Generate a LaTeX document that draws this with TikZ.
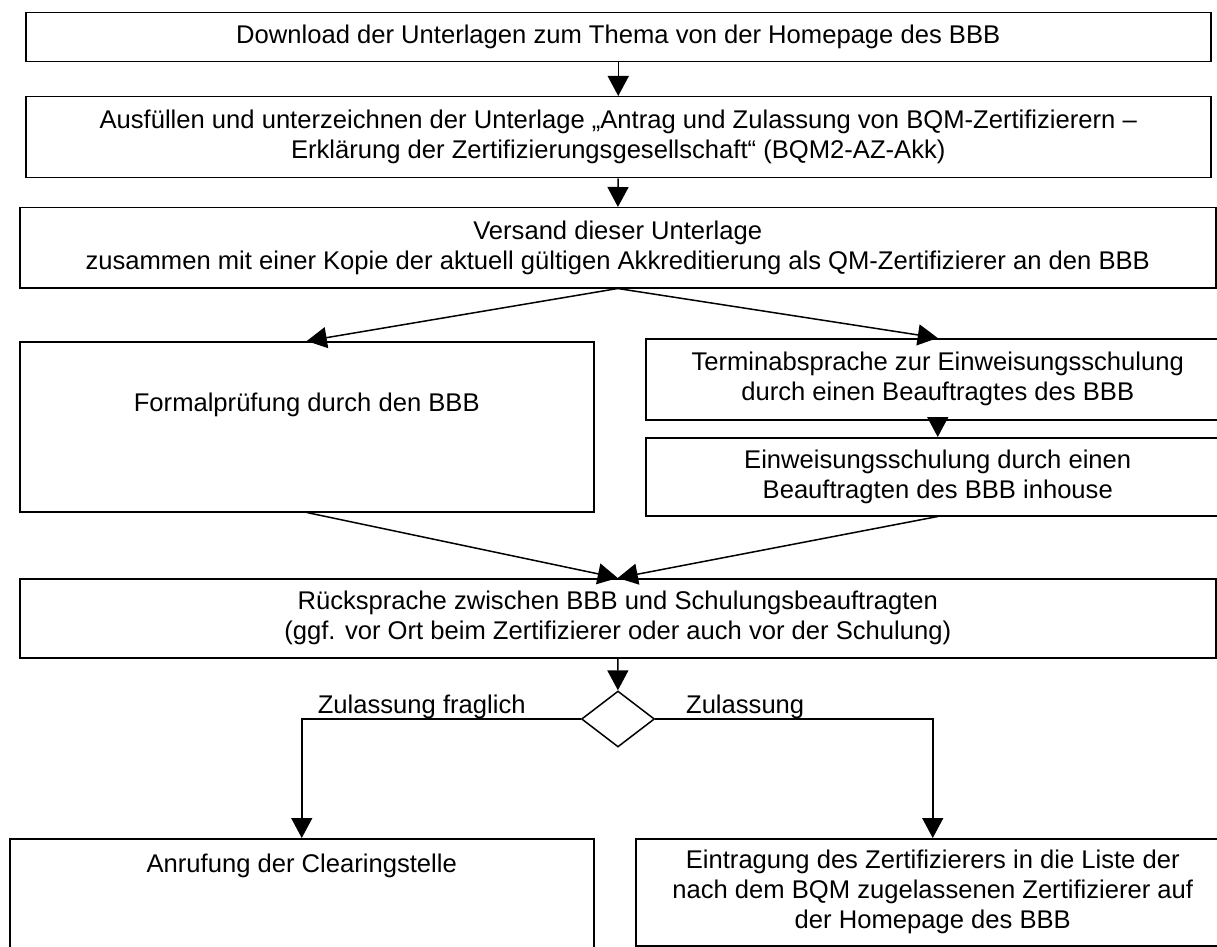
\documentclass[tikz,border=0pt]{standalone}
\usepackage{fontspec}
\setmainfont{Liberation Sans}
\usetikzlibrary{arrows.meta,shapes.geometric}

\begin{document}
\begin{tikzpicture}[->,line width=0.75pt,>={Triangle[length=10pt,width=10.5pt]},x=0.5pt,y=-0.5pt,
    font=\fontsize{12.8}{15}\selectfont]
      \tikzstyle{stepbox}=[rectangle,draw,->,inner sep=0pt,align=center,anchor=north west]
      \tikzstyle{decision}=[diamond,draw,inner sep=0pt,minimum width=36.5pt,minimum height=28pt]
      \tikzstyle{branch}=[anchor=base,yshift=3pt,inner sep=0pt]
      \useasboundingbox (0,0) rectangle (1217,947);

      \node [stepbox,minimum width=592.5pt,minimum height=24.5pt] (download) at (25,12)
        {Download der Unterlagen zum Thema von der Homepage des BBB};
      \node [stepbox,minimum width=592.5pt,minimum height=40.5pt] (antrag) at (25,96)
        {Ausfüllen und unterzeichnen der Unterlage „Antrag und Zulassung von BQM-Zertifizierern –\\
         Erklärung der Zertifizierungsgesellschaft“ (BQM2-AZ-Akk)};
      \node [stepbox,minimum width=598pt,minimum height=40pt] (versand) at (19,207)
        {Versand dieser Unterlage\\
         zusammen mit einer Kopie der aktuell gültigen Akkreditierung als QM-Zertifizierer an den BBB};
      \node [stepbox,minimum width=287pt,text height=35pt,text depth=50pt] (formal) at (19,341)
        {Formalprüfung durch den BBB};
      \node [stepbox,minimum width=292pt,minimum height=40.5pt] (termin) at (645,338)
        {Terminabsprache zur Einweisungsschulung\\ durch einen Beauftragtes des BBB};
      \node [stepbox,minimum width=292pt,minimum height=39pt] (einweisung) at (645,437)
        {Einweisungsschulung durch einen\\ Beauftragten des BBB inhouse};
      \node [stepbox,minimum width=598pt,minimum height=39.5pt] (ruecksprache) at (19,578)
        {Rücksprache zwischen BBB und Schulungsbeauftragten\\
         (ggf. vor Ort beim Zertifizierer oder auch vor der Schulung)};
      \node [decision] (pruefe) at (618,719) {};
      \node [stepbox,minimum width=292pt,text height=17pt,text depth=44pt] (clearing) at (9,838)
        {Anrufung der Clearingstelle};
      \node [stepbox,minimum width=297pt,minimum height=53.5pt] (eintragung) at (635,838)
        {Eintragung des Zertifizierers in die Liste der\\
         nach dem BQM zugelassenen Zertifizierer auf\\ der Homepage des BBB};

      \draw (download) -- (antrag);
      \draw (antrag) -- (versand);
      \draw (versand.south) -- (formal.north);
      \draw (versand.south) -- (termin.north);
      \draw (termin) -- (einweisung);
      \draw (formal.south) -- (ruecksprache.north);
      \draw (einweisung.south) -- (ruecksprache.north);
      \draw (ruecksprache) -- (pruefe);
      \draw (pruefe.west) -| node [branch,pos=0.285] {Zulassung fraglich} (clearing.north);
      \draw (pruefe.east) -| node [branch,pos=0.162] {Zulassung} (eintragung.north);
\end{tikzpicture}
\end{document}
